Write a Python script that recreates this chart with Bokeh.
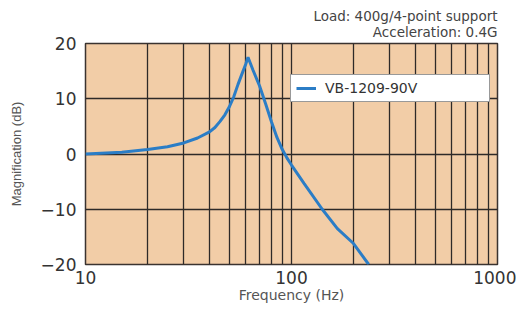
from bokeh.plotting import figure
from bokeh.models import FixedTicker, Legend, LegendItem, Title
from bokeh.embed import file_html
from bokeh.resources import INLINE

freq_hz = [10, 15, 20, 25, 30, 35, 40, 42.5, 45, 47.5, 50, 52.5, 55, 57.5, 60, 61.5, 65, 70,
           75, 80, 85, 90, 95, 100, 115, 141, 167, 200, 237]
mag_db = [0, 0.3, 0.8, 1.3, 2.0, 2.9, 4.0, 4.8, 5.9, 7.1, 8.6, 10.4, 12.6, 14.5, 16.3, 17.5,
          15.2, 12.3, 9.0, 5.8, 3.0, 0.9, -0.7, -2.0, -5.3, -10.0, -13.5, -16.2, -20.0]
series_name = "VB-1209-90V"
x_major = [10, 100, 1000]
x_minor = [20, 30, 40, 50, 60, 70, 80, 90, 200, 300, 400, 500, 600, 700, 800, 900]
y_ticks = [-20, -10, 0, 10, 20]
note1 = "Load: 400g/4-point support"
note2 = "Acceleration: 0.4G"

p = figure(width=516, height=309, x_axis_type="log", x_range=(10, 1000), y_range=(-20, 20),
           output_backend="svg", toolbar_location=None,
           min_border_left=85, min_border_right=19, min_border_top=43, min_border_bottom=45)
p.background_fill_color = "#F2CDA7"
p.border_fill_color = "white"
p.outline_line_color = "#3a3330"
p.outline_line_width = 1.5

p.title.text = note1
p.title.align = "right"
p.title.text_font = "DejaVu Sans"
p.title.text_font_size = "13.5px"
p.title.text_font_style = "normal"
p.title.text_color = "#444444"
p.title.standoff = -10
p.add_layout(Title(text=note2, align="right", text_font="DejaVu Sans", text_font_size="13.5px",
                   text_font_style="normal", text_color="#444444", standoff=7), "above")

p.xaxis.ticker = FixedTicker(ticks=x_major, minor_ticks=x_minor)
p.yaxis.ticker = FixedTicker(ticks=y_ticks)
p.xaxis.major_label_overrides = {10: "10", 100: "100", 1000: "1000"}

for ax in (p.xaxis, p.yaxis):
    ax.axis_line_color = None
    ax.major_tick_line_color = None
    ax.minor_tick_line_color = None
    ax.major_tick_out = 0
    ax.minor_tick_out = 0
    ax.major_tick_in = 0
    ax.minor_tick_in = 0
    ax.major_label_text_font = "DejaVu Sans"
    ax.major_label_text_font_size = "17px"
    ax.major_label_text_color = "#333333"
    ax.axis_label_text_font_style = "normal"
    ax.axis_label_text_color = "#555555"

p.xaxis.major_label_standoff = 6
p.yaxis.major_label_standoff = 9
p.xaxis.axis_label = "Frequency (Hz)"
p.xaxis.axis_label_text_font = "DejaVu Sans"
p.xaxis.axis_label_text_font_size = "14px"
p.xaxis.axis_label_standoff = 0
p.yaxis.axis_label = "Magnification (dB)"
p.yaxis.axis_label_text_font = "Liberation Sans"
p.yaxis.axis_label_text_font_size = "13px"
p.yaxis.axis_label_standoff = 14

p.xgrid.grid_line_color = "#2e2a28"
p.xgrid.grid_line_width = 1.3
p.xgrid.minor_grid_line_color = "#2e2a28"
p.xgrid.minor_grid_line_width = 1.3
p.ygrid.grid_line_color = "#2e2a28"
p.ygrid.grid_line_width = 1.3

r = p.line(freq_hz, mag_db, line_color="#2B7DC6", line_width=3)

legend = Legend(items=[LegendItem(label=series_name, renderers=[r])], location=(205, 162),
                padding=5, margin=0, spacing=0, glyph_width=20, glyph_height=14,
                label_standoff=9, label_width=159,
                label_text_font="DejaVu Sans", label_text_font_size="14px",
                label_text_color="#333333",
                border_line_color="#333333", border_line_width=1.2,
                background_fill_color="white", background_fill_alpha=1)
p.add_layout(legend, "center")

open("out.html", "w").write(file_html(p, INLINE))
